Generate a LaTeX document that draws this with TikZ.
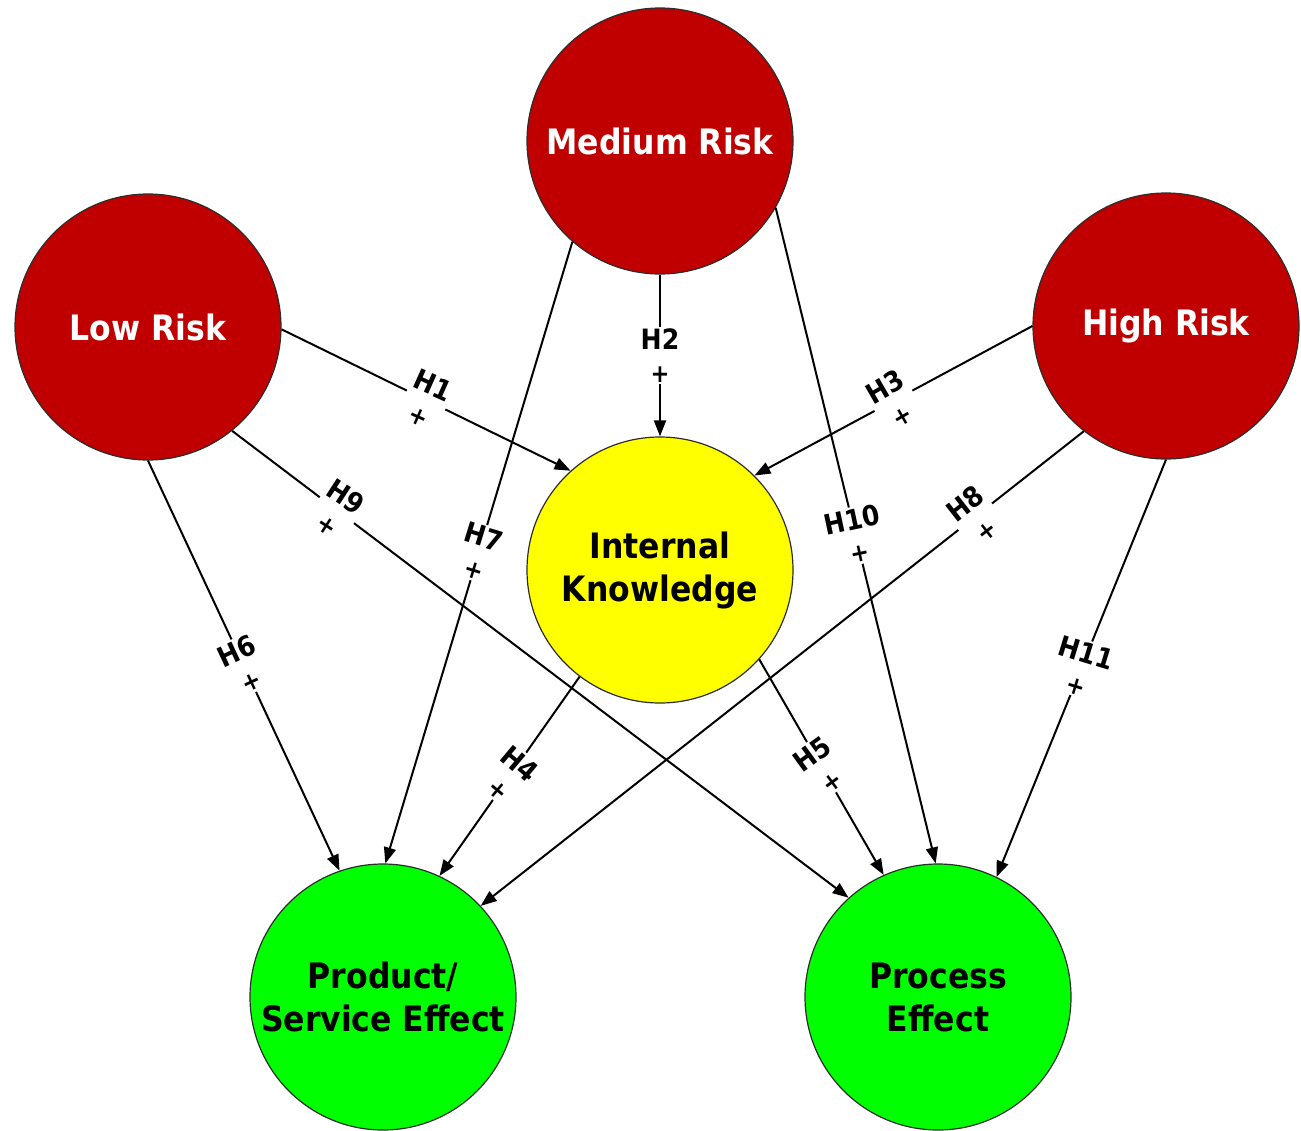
\documentclass[tikz,border=0pt]{standalone}
\usepackage{fontspec}
\setmainfont{DejaVu Sans Condensed}[BoldFont={DejaVu Sans Condensed Bold}]
\usetikzlibrary{arrows.meta}
\definecolor{riskred}{RGB}{192,0,0}
\definecolor{knowyellow}{RGB}{255,255,0}
\definecolor{effgreen}{RGB}{0,255,0}
\definecolor{rimgray}{RGB}{45,45,45}
\newcommand{\plusmark}{\fontsize{25}{33}\selectfont +}
\begin{document}
\begin{tikzpicture}[x=1pt,y=-1pt,
  factor/.style={circle, draw=rimgray, line width=1.2pt, minimum size=266pt,
    inner sep=0pt, align=center, font=\bfseries\fontsize{35}{43}\selectfont},
  risk/.style={factor, fill=riskred, text=white},
  knowledge/.style={factor, fill=knowyellow, text=black},
  effect/.style={factor, fill=effgreen, text=black},
  link/.style={line width=2pt, draw=black, -{Triangle[length=16pt,width=12pt]}},
  hyp/.style={fill=white, inner sep=2pt, align=center, pos=0.5,
    font=\bfseries\fontsize{28}{33}\selectfont}
]
\useasboundingbox (0,0) rectangle (1301,1130);

% factors
\node[risk]      (mr) at (660,141)  {Medium Risk};
\node[risk]      (lr) at (148,327)  {Low Risk};
\node[risk]      (hr) at (1166,326) {High Risk};
\node[knowledge] (ik) at (660,570)  {Internal\\Knowledge};
\node[effect]    (ps) at (383,997)  {Product/\\Service Effect};
\node[effect]    (pe) at (938,997)  {Process\\Effect};

% hypotheses: risk -> knowledge
\draw[link] (lr.-1)  -- node[hyp, rotate=-24] {H1\\\plusmark} (ik.132);
\draw[link] (mr.-90) -- node[hyp] {H2\\\plusmark} (ik.90);
\draw[link] (hr.180) -- node[hyp, rotate=30] {H3\\\plusmark} (ik.45.6);

% hypotheses: knowledge -> effects
\draw[link] (ik.233) -- node[hyp, rotate=-40] {H4\\\plusmark} (ps.65);
\draw[link] (ik.-42.6) -- node[hyp, rotate=36] {H5\\\plusmark} (pe.114);

% hypotheses: risk -> effects
\draw[link] (lr.-90) -- node[hyp, rotate=25] {H6\\\plusmark} (ps.109.7);
\draw[link] (mr.229.5) -- node[hyp, rotate=-17] {H7\\\plusmark} (ps.89);
\draw[link] (hr.232.4) -- node[hyp, rotate=38, pos=0.18] {H8\\\plusmark} (ps.43.6);
\draw[link] (lr.-51.6) -- node[hyp, rotate=-33, pos=0.17] {H9\\\plusmark} (pe.132.3);
\draw[link] (mr.-30.5) -- node[hyp, rotate=12] {H10\\\plusmark} (pe.91);
\draw[link] (hr.-90) -- node[hyp, rotate=-17] {H11\\\plusmark} (pe.64.2);
\end{tikzpicture}
\end{document}
